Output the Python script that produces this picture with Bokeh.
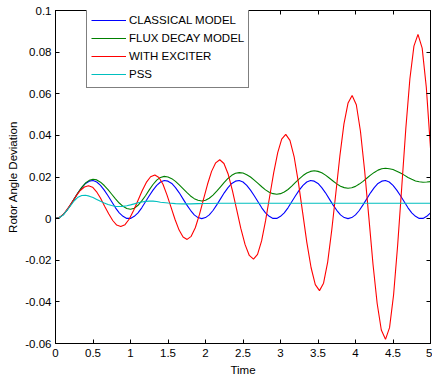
from bokeh.plotting import figure
from bokeh.models import LinearAxis, FixedTicker, Range1d, Legend, LegendItem
from bokeh.embed import file_html
from bokeh.resources import INLINE

# ---------------- data ----------------
x_ticks = [0, 0.5, 1, 1.5, 2, 2.5, 3, 3.5, 4, 4.5, 5]
x_tick_labels = ["0", "0.5", "1", "1.5", "2", "2.5", "3", "3.5", "4", "4.5", "5"]
y_ticks = [-0.06, -0.04, -0.02, 0, 0.02, 0.04, 0.06, 0.08, 0.1]
y_tick_labels = ["-0.06", "-0.04", "-0.02", "0", "0.02", "0.04", "0.06", "0.08", "0.1"]

series_names = ["CLASSICAL MODEL", "FLUX DECAY MODEL", "WITH EXCITER", "PSS"]

# sample times for classical and flux-decay traces (0 .. 5 s, 0.05 s apart)
t_grid = [
    0.00, 0.05, 0.10, 0.15, 0.20, 0.25, 0.30, 0.35, 0.40, 0.45,
    0.50, 0.55, 0.60, 0.65, 0.70, 0.75, 0.80, 0.85, 0.90, 0.95,
    1.00, 1.05, 1.10, 1.15, 1.20, 1.25, 1.30, 1.35, 1.40, 1.45,
    1.50, 1.55, 1.60, 1.65, 1.70, 1.75, 1.80, 1.85, 1.90, 1.95,
    2.00, 2.05, 2.10, 2.15, 2.20, 2.25, 2.30, 2.35, 2.40, 2.45,
    2.50, 2.55, 2.60, 2.65, 2.70, 2.75, 2.80, 2.85, 2.90, 2.95,
    3.00, 3.05, 3.10, 3.15, 3.20, 3.25, 3.30, 3.35, 3.40, 3.45,
    3.50, 3.55, 3.60, 3.65, 3.70, 3.75, 3.80, 3.85, 3.90, 3.95,
    4.00, 4.05, 4.10, 4.15, 4.20, 4.25, 4.30, 4.35, 4.40, 4.45,
    4.50, 4.55, 4.60, 4.65, 4.70, 4.75, 4.80, 4.85, 4.90, 4.95,
    5.00,
]

classical = [
    0.0000, 0.0005, 0.0018, 0.0039, 0.0066, 0.0095, 0.0124, 0.0149, 0.0169, 0.0180,
    0.0183, 0.0176, 0.0160, 0.0137, 0.0110, 0.0081, 0.0052, 0.0028, 0.0011, 0.0001,
    0.0001, 0.0011, 0.0028, 0.0052, 0.0081, 0.0110, 0.0137, 0.0160, 0.0176, 0.0183,
    0.0180, 0.0169, 0.0149, 0.0124, 0.0095, 0.0066, 0.0040, 0.0018, 0.0005, 0.0000,
    0.0005, 0.0018, 0.0039, 0.0066, 0.0095, 0.0124, 0.0149, 0.0169, 0.0180, 0.0183,
    0.0176, 0.0160, 0.0137, 0.0110, 0.0081, 0.0052, 0.0028, 0.0011, 0.0001,
    0.0001, 0.0011, 0.0028, 0.0052, 0.0081, 0.0110, 0.0137, 0.0160, 0.0176, 0.0183,
    0.0180, 0.0169, 0.0149, 0.0124, 0.0095, 0.0066, 0.0040, 0.0018, 0.0005, 0.0000,
    0.0005, 0.0018, 0.0039, 0.0066, 0.0095, 0.0124, 0.0149, 0.0169, 0.0180, 0.0183,
    0.0176, 0.0160, 0.0137, 0.0110, 0.0081, 0.0052, 0.0028, 0.0011, 0.0001,
    0.0001, 0.0011, 0.0028,
]

flux_decay = [
    0.0000, 0.0005, 0.0018, 0.0039, 0.0065, 0.0095, 0.0124, 0.0150, 0.0171, 0.0184,
    0.0189, 0.0186, 0.0175, 0.0159, 0.0139, 0.0117, 0.0095, 0.0075, 0.0059, 0.0049,
    0.0045, 0.0050, 0.0064, 0.0085, 0.0110, 0.0138, 0.0164, 0.0185, 0.0198, 0.0203,
    0.0200, 0.0192, 0.0179, 0.0162, 0.0144, 0.0126, 0.0109, 0.0096, 0.0088, 0.0085,
    0.0088, 0.0098, 0.0113, 0.0132, 0.0153, 0.0174, 0.0193, 0.0208, 0.0218, 0.0221,
    0.0219, 0.0211, 0.0200, 0.0185, 0.0169, 0.0153, 0.0138, 0.0127, 0.0120, 0.0117,
    0.0120, 0.0128, 0.0140, 0.0156, 0.0174, 0.0191, 0.0207, 0.0219, 0.0227, 0.0230,
    0.0227, 0.0220, 0.0209, 0.0195, 0.0181, 0.0167, 0.0156, 0.0149, 0.0146, 0.0148,
    0.0155, 0.0166, 0.0179, 0.0194, 0.0209, 0.0222, 0.0233, 0.0240, 0.0242, 0.0240,
    0.0236, 0.0228, 0.0219, 0.0209, 0.0198, 0.0189, 0.0181, 0.0177, 0.0175, 0.0176,
    0.0178,
]

exciter_t = [
    0.000, 0.055, 0.110, 0.165, 0.220, 0.275, 0.330, 0.385, 0.440,
    0.494, 0.548, 0.601, 0.655, 0.709, 0.763, 0.816, 0.870,
    0.927, 0.984, 1.041, 1.098, 1.154, 1.211, 1.268, 1.325,
    1.379, 1.433, 1.486, 1.540, 1.594, 1.648, 1.701, 1.755,
    1.809, 1.864, 1.918, 1.973, 2.027, 2.081, 2.136, 2.190,
    2.246, 2.303, 2.359, 2.415, 2.471, 2.528, 2.584, 2.640,
    2.694, 2.748, 2.801, 2.855, 2.909, 2.963, 3.016, 3.070,
    3.126, 3.183, 3.239, 3.295, 3.351, 3.408, 3.464, 3.520,
    3.574, 3.629, 3.683, 3.738, 3.792, 3.846, 3.901, 3.955,
    4.011, 4.066, 4.122, 4.178, 4.233, 4.289, 4.344, 4.400,
    4.454, 4.508, 4.562, 4.617, 4.671, 4.725, 4.779, 4.833,
    4.889, 4.944, 5.000,
]
exciter = [
    0.0000, 0.0006, 0.0023, 0.0049, 0.0079, 0.0109, 0.0135, 0.0152, 0.0158,
    0.0151, 0.0129, 0.0098, 0.0060, 0.0023, -0.0009, -0.0031, -0.0038,
    -0.0029, -0.0002, 0.0039, 0.0086, 0.0133, 0.0174, 0.0201, 0.0210,
    0.0198, 0.0165, 0.0114, 0.0055, -0.0004, -0.0055, -0.0088, -0.0100,
    -0.0085, -0.0044, 0.0018, 0.0092, 0.0165, 0.0227, 0.0268, 0.0283,
    0.0265, 0.0213, 0.0135, 0.0044, -0.0047, -0.0125, -0.0177, -0.0195,
    -0.0172, -0.0107, -0.0010, 0.0105, 0.0220, 0.0317, 0.0382, 0.0405,
    0.0376, 0.0295, 0.0173, 0.0030, -0.0114, -0.0236, -0.0317, -0.0346,
    -0.0310, -0.0209, -0.0056, 0.0123, 0.0302, 0.0455, 0.0556, 0.0592,
    0.0547, 0.0420, 0.0230, 0.0006, -0.0218, -0.0408, -0.0535, -0.0580,
    -0.0524, -0.0366, -0.0128, 0.0153, 0.0433, 0.0671, 0.0829, 0.0885,
    0.0819, 0.0631, 0.0340,
]

pss_t = [
    0.00, 0.05, 0.10, 0.15, 0.20, 0.25, 0.30, 0.35, 0.40, 0.45,
    0.50, 0.55, 0.60, 0.65, 0.70, 0.75, 0.80, 0.85, 0.90, 0.95,
    1.00, 1.05, 1.10, 1.15, 1.20, 1.25, 1.30, 1.35, 1.40, 1.50,
    1.60, 1.70, 1.80, 1.90, 2.00, 2.20, 2.50, 3.00, 4.00, 5.00,
]
pss = [
    0.0000, 0.0004, 0.0017, 0.0038, 0.0062, 0.0086, 0.0103, 0.0111, 0.0112, 0.0108,
    0.0101, 0.0092, 0.0083, 0.0075, 0.0068, 0.0063, 0.0059, 0.0058, 0.0059, 0.0062,
    0.0066, 0.0071, 0.0076, 0.0080, 0.0083, 0.0084, 0.0084, 0.0082, 0.0079, 0.0075,
    0.0072, 0.0071, 0.0071, 0.0072, 0.0073, 0.0074, 0.0074, 0.0074, 0.0074, 0.0074,
]

colors = ["#0000FF", "#008000", "#FF0000", "#00BFBF"]

# ---------------- figure ----------------
FONT = "Liberation Sans"
FS = "11.5px"

p = figure(
    width=432, height=378,
    x_range=Range1d(0, 5), y_range=Range1d(-0.06, 0.1),
    output_backend="svg", toolbar_location=None,
    min_border_left=55, min_border_right=2, min_border_top=10, min_border_bottom=33,
)
p.background_fill_color = "white"
p.border_fill_color = "white"
p.outline_line_color = "black"
p.outline_line_width = 1
p.xgrid.visible = False
p.ygrid.visible = False

r_cl = p.line(t_grid, classical, line_color=colors[0], line_width=1.1)
r_fd = p.line(t_grid, flux_decay, line_color=colors[1], line_width=1.1)
r_ex = p.line(exciter_t, exciter, line_color=colors[2], line_width=1.1)
r_ps = p.line(pss_t, pss, line_color=colors[3], line_width=1.1)


def style_axis(ax, ticks, labels, show_labels=True):
    ax.ticker = FixedTicker(ticks=ticks)
    ax.major_tick_in = 4
    ax.major_tick_out = 0
    ax.minor_tick_line_color = None
    ax.axis_line_color = "black"
    ax.axis_line_width = 1
    ax.major_tick_line_color = "black"
    ax.major_label_text_font = FONT
    ax.major_label_text_color = "black"
    ax.major_label_text_font_size = FS
    ax.axis_label_text_font = FONT
    ax.axis_label_text_font_style = "normal"
    ax.axis_label_text_color = "black"
    ax.axis_label_text_font_size = FS
    if show_labels:
        ax.major_label_overrides = {t: l for t, l in zip(ticks, labels)}
        ax.major_label_standoff = 5
    else:
        ax.major_label_overrides = {t: "" for t in ticks}
        ax.major_label_standoff = 0


style_axis(p.xaxis[0], x_ticks, x_tick_labels)
style_axis(p.yaxis[0], y_ticks, y_tick_labels)
p.xaxis[0].major_label_standoff = 5
p.xaxis[0].axis_label = "Time"
p.xaxis[0].axis_label_standoff = 4
p.yaxis[0].major_label_standoff = 4
p.yaxis[0].axis_label = "Rotor Angle Deviation"
p.yaxis[0].axis_label_standoff = 3

top_ax = LinearAxis()
style_axis(top_ax, x_ticks, x_tick_labels, show_labels=False)
p.add_layout(top_ax, "above")
right_ax = LinearAxis()
style_axis(right_ax, y_ticks, y_tick_labels, show_labels=False)
p.add_layout(right_ax, "right")

legend = Legend(
    items=[
        LegendItem(label=series_names[0], renderers=[r_cl]),
        LegendItem(label=series_names[1], renderers=[r_fd]),
        LegendItem(label=series_names[2], renderers=[r_ex]),
        LegendItem(label=series_names[3], renderers=[r_ps]),
    ],
    location=(31, 255),
)
legend.margin = 0
legend.padding = 4
legend.spacing = 0
legend.glyph_width = 35
legend.glyph_height = 18
legend.label_height = 18
legend.label_standoff = 3
legend.label_text_font = FONT
legend.label_text_font_size = FS
legend.label_text_color = "black"
legend.border_line_color = "black"
legend.border_line_width = 1.5
legend.background_fill_color = "white"
legend.background_fill_alpha = 1
p.add_layout(legend)

open("out.html", "w").write(file_html(p, INLINE))
